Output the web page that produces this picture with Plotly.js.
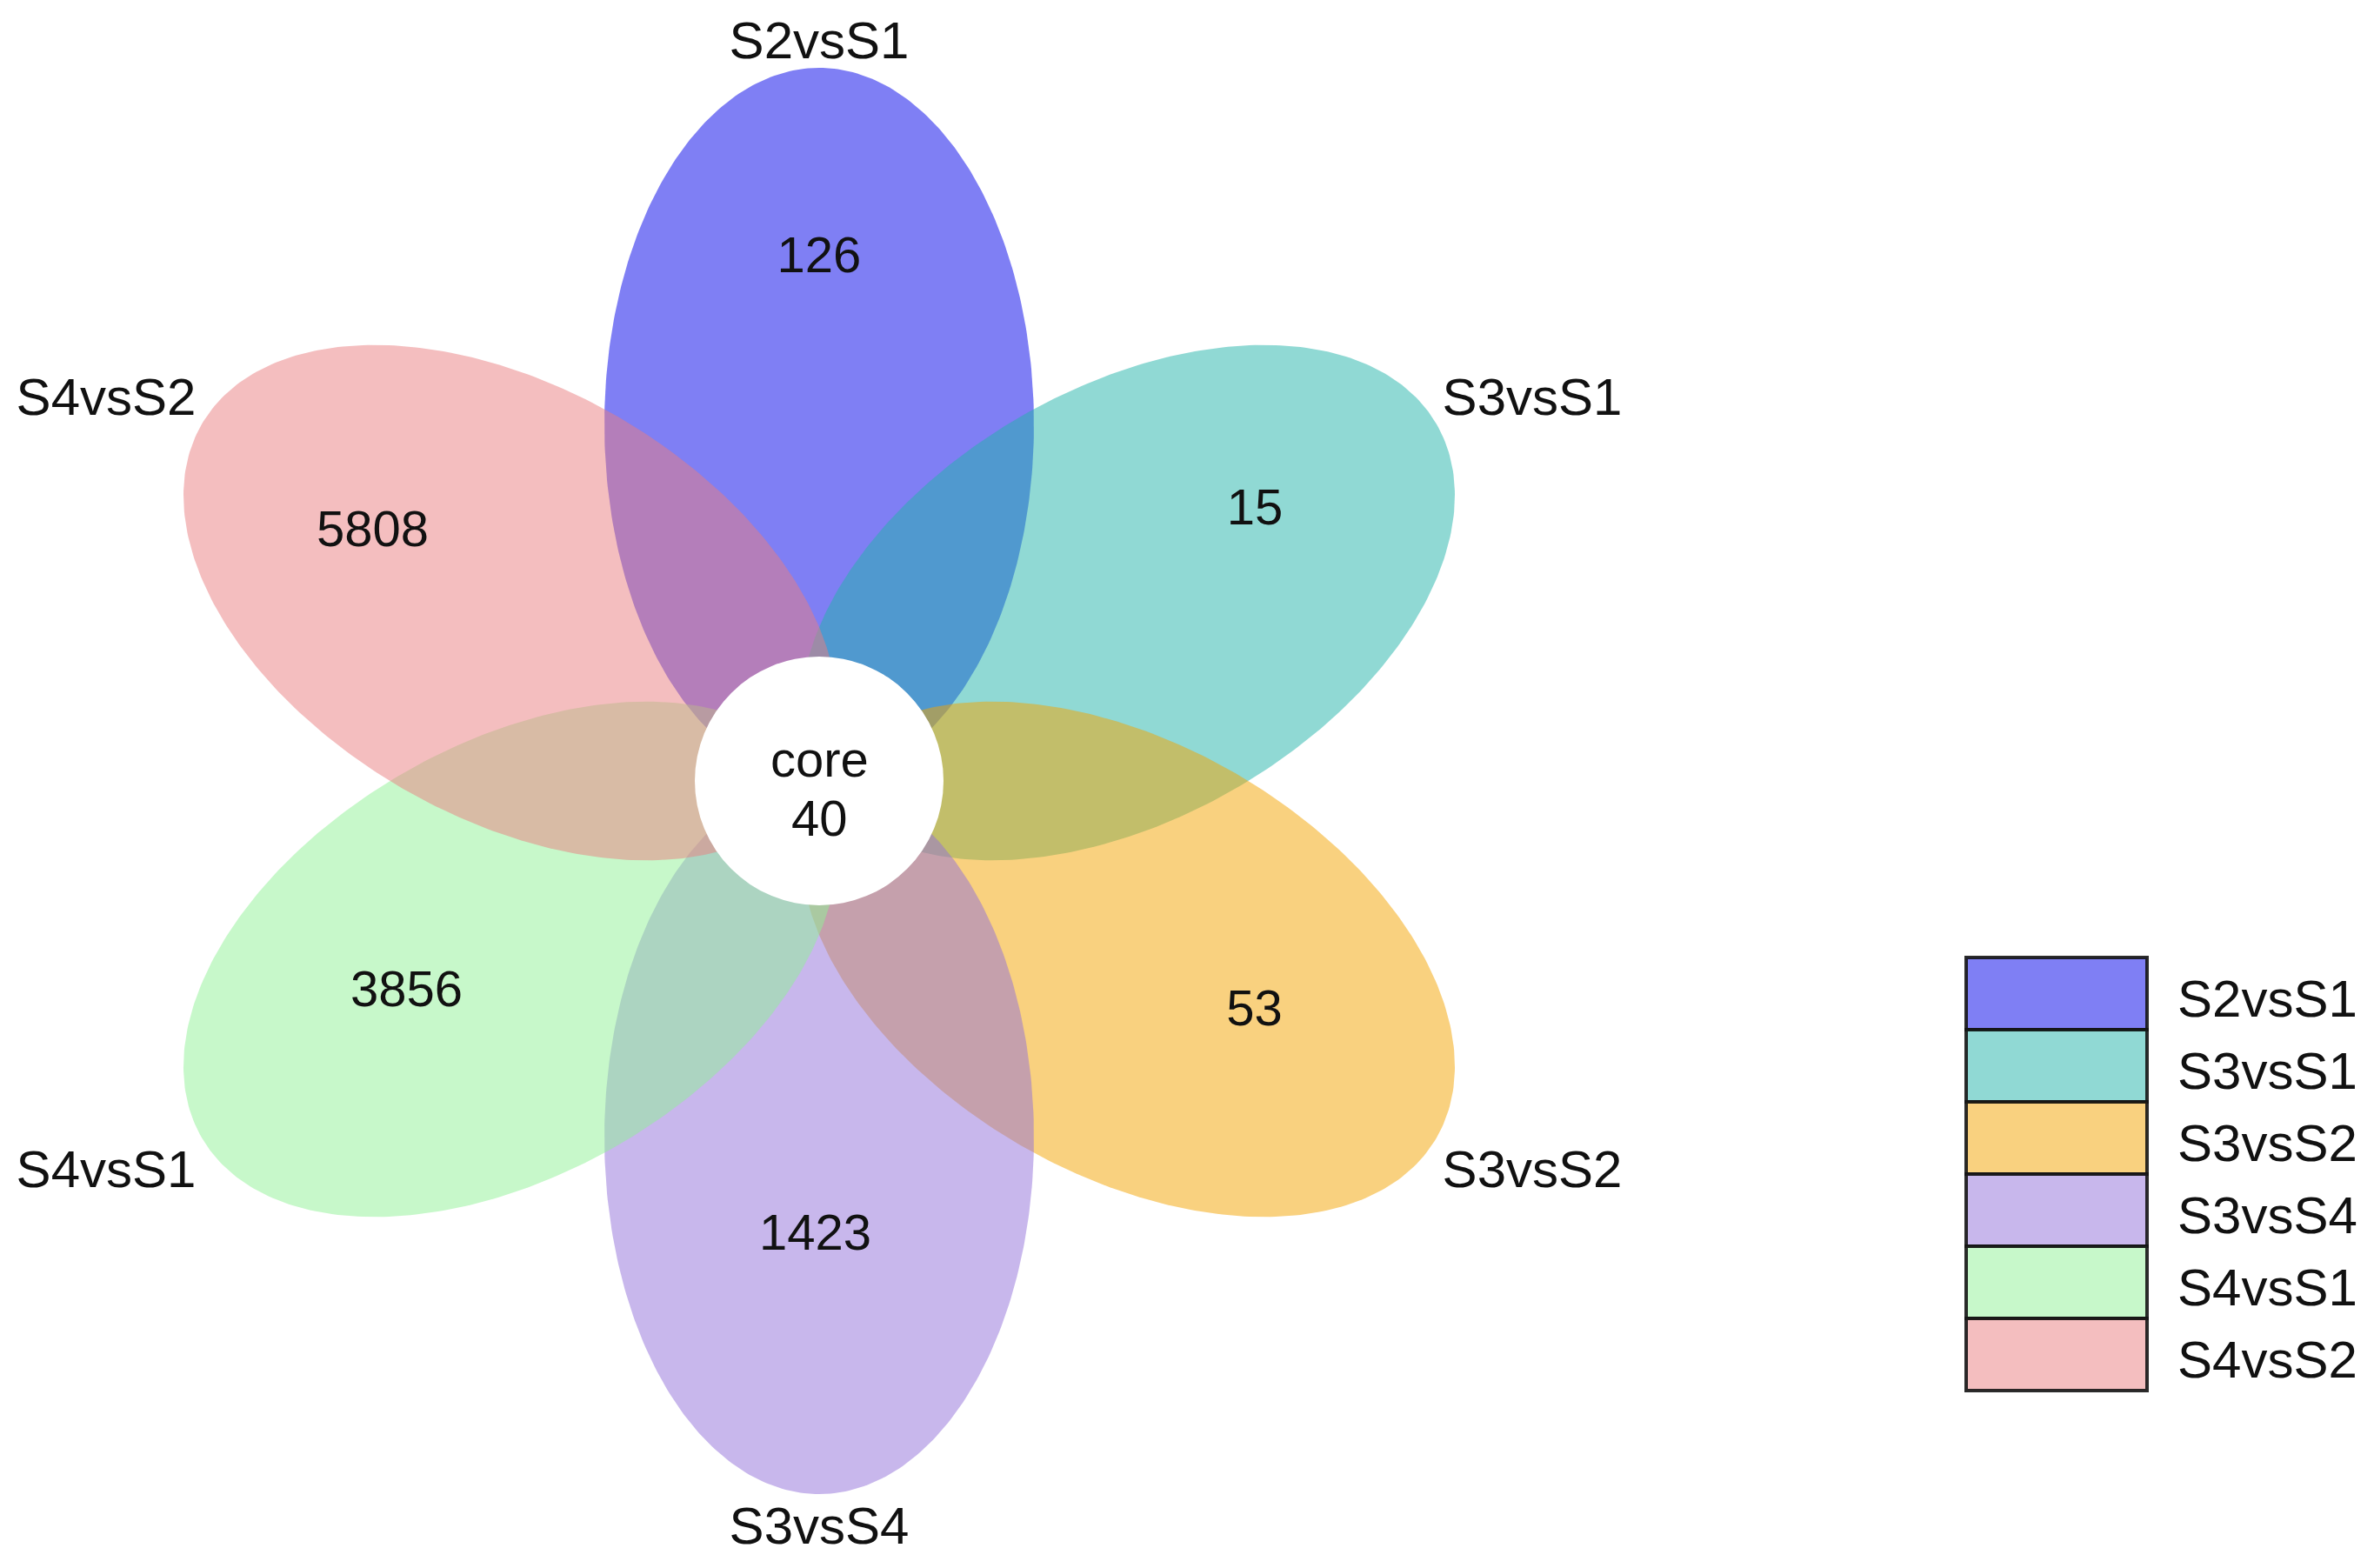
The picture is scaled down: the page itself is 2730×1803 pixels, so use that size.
<!DOCTYPE html>
<html>
<head>
<meta charset="utf-8">
<script src="https://cdn.plot.ly/plotly-3.0.1.min.js"></script>
<style>html,body{margin:0;padding:0;background:#fff;}#chart{width:2730px;height:1803px;}</style>
</head>
<body>
<div id="chart"></div>
<script>
// ---- data ----
var categories = ['S2vsS1', 'S3vsS1', 'S3vsS2', 'S3vsS4', 'S4vsS1', 'S4vsS2'];
var uniqueCounts = [126, 15, 53, 1423, 3856, 5808];
var coreLabel = 'core';
var coreCount = 40;

// ---- style / geometry ----
var petalColors = ['rgb(0,0,234)', 'rgb(33,179,169)', 'rgb(243,163,0)', 'rgb(145,111,217)', 'rgb(143,241,149)', 'rgb(233,125,127)'];
var petalAlpha = 0.5;
var petalAngles = [90, 30, -30, -90, -150, 150];
var W = 2730, H = 1803;
var cx = 942, cy = 898;
var semiMajor = 410, semiMinor = 247, petalOffset = 410;
var coreRadius = 143;
// count label placement: [distance, angleDeg]
var countPlace = [[600, 90], [589, 31.7], [567, -28], [525, -90.5], [534, -152.7], [587, 151]];
// set-name label offsets from centre (pixels, y down)
var nameOffsets = [[0, -846], [820, -436], [820, 452], [0, 862], [-820, 452], [-820, -436]];
var FONT = 'Liberation Sans, Arial, sans-serif';

function rgba(c, a) { return c.replace('rgb(', 'rgba(').replace(')', ',' + a + ')'); }

var traces = [];
categories.forEach(function (name, i) {
  var th = petalAngles[i] * Math.PI / 180;
  var ex = cx + petalOffset * Math.cos(th);
  var ey = cy - petalOffset * Math.sin(th);
  var xs = [], ys = [];
  for (var k = 0; k <= 360; k++) {
    var t = k * Math.PI / 180;
    var lx = semiMajor * Math.cos(t), ly = semiMinor * Math.sin(t);
    xs.push(ex + lx * Math.cos(th) - ly * Math.sin(th));
    ys.push(ey - (lx * Math.sin(th) + ly * Math.cos(th)));
  }
  traces.push({
    type: 'scatter', mode: 'lines', x: xs, y: ys, fill: 'toself',
    fillcolor: rgba(petalColors[i], petalAlpha), line: { width: 0 },
    hoverinfo: 'skip', showlegend: false, name: name
  });
});

// count labels
traces.push({
  type: 'scatter', mode: 'text',
  x: countPlace.map(function (p) { return cx + p[0] * Math.cos(p[1] * Math.PI / 180); }),
  y: countPlace.map(function (p) { return cy - p[0] * Math.sin(p[1] * Math.PI / 180); }),
  text: uniqueCounts.map(String), textposition: 'middle center',
  textfont: { family: FONT, size: 58, color: '#111' },
  hoverinfo: 'skip', showlegend: false
});

// set name labels
traces.push({
  type: 'scatter', mode: 'text',
  x: nameOffsets.map(function (o) { return cx + o[0]; }),
  y: nameOffsets.map(function (o) { return cy + o[1]; }),
  text: categories, textposition: 'middle center',
  textfont: { family: FONT, size: 60, color: '#111' },
  hoverinfo: 'skip', showlegend: false
});

var shapes = [{
  type: 'circle', xref: 'x', yref: 'y',
  x0: cx - coreRadius, x1: cx + coreRadius, y0: cy - coreRadius, y1: cy + coreRadius,
  fillcolor: '#ffffff', line: { width: 0 }, layer: 'above'
}];

var annotations = [
  { x: cx, y: cy - 26, xref: 'x', yref: 'y', text: coreLabel, showarrow: false,
    font: { family: FONT, size: 58, color: '#111' }, xanchor: 'center', yanchor: 'middle' },
  { x: cx, y: cy + 42, xref: 'x', yref: 'y', text: String(coreCount), showarrow: false,
    font: { family: FONT, size: 58, color: '#111' }, xanchor: 'center', yanchor: 'middle' }
];

// custom legend
var legX0 = 2261, legX1 = 2469, legY0 = 1101, legH = 83;
categories.forEach(function (name, i) {
  shapes.push({
    type: 'rect', xref: 'x', yref: 'y',
    x0: legX0, x1: legX1, y0: legY0 + i * legH, y1: legY0 + (i + 1) * legH,
    fillcolor: rgba(petalColors[i], petalAlpha), line: { color: 'rgba(20,20,20,0.9)', width: 4 }, layer: 'above'
  });
  annotations.push({
    x: 2502, y: legY0 + (i + 0.5) * legH + 6, xref: 'x', yref: 'y', text: name, showarrow: false,
    font: { family: FONT, size: 60, color: '#111' }, xanchor: 'left', yanchor: 'middle'
  });
});

var layout = {
  width: W, height: H,
  margin: { l: 0, r: 0, t: 0, b: 0 },
  paper_bgcolor: '#ffffff', plot_bgcolor: '#ffffff',
  xaxis: { range: [0, W], visible: false, fixedrange: true },
  yaxis: { range: [H, 0], visible: false, fixedrange: true },
  shapes: shapes, annotations: annotations, showlegend: false
};

Plotly.newPlot('chart', traces, layout, { staticPlot: true, displayModeBar: false });
</script>
</body>
</html>
